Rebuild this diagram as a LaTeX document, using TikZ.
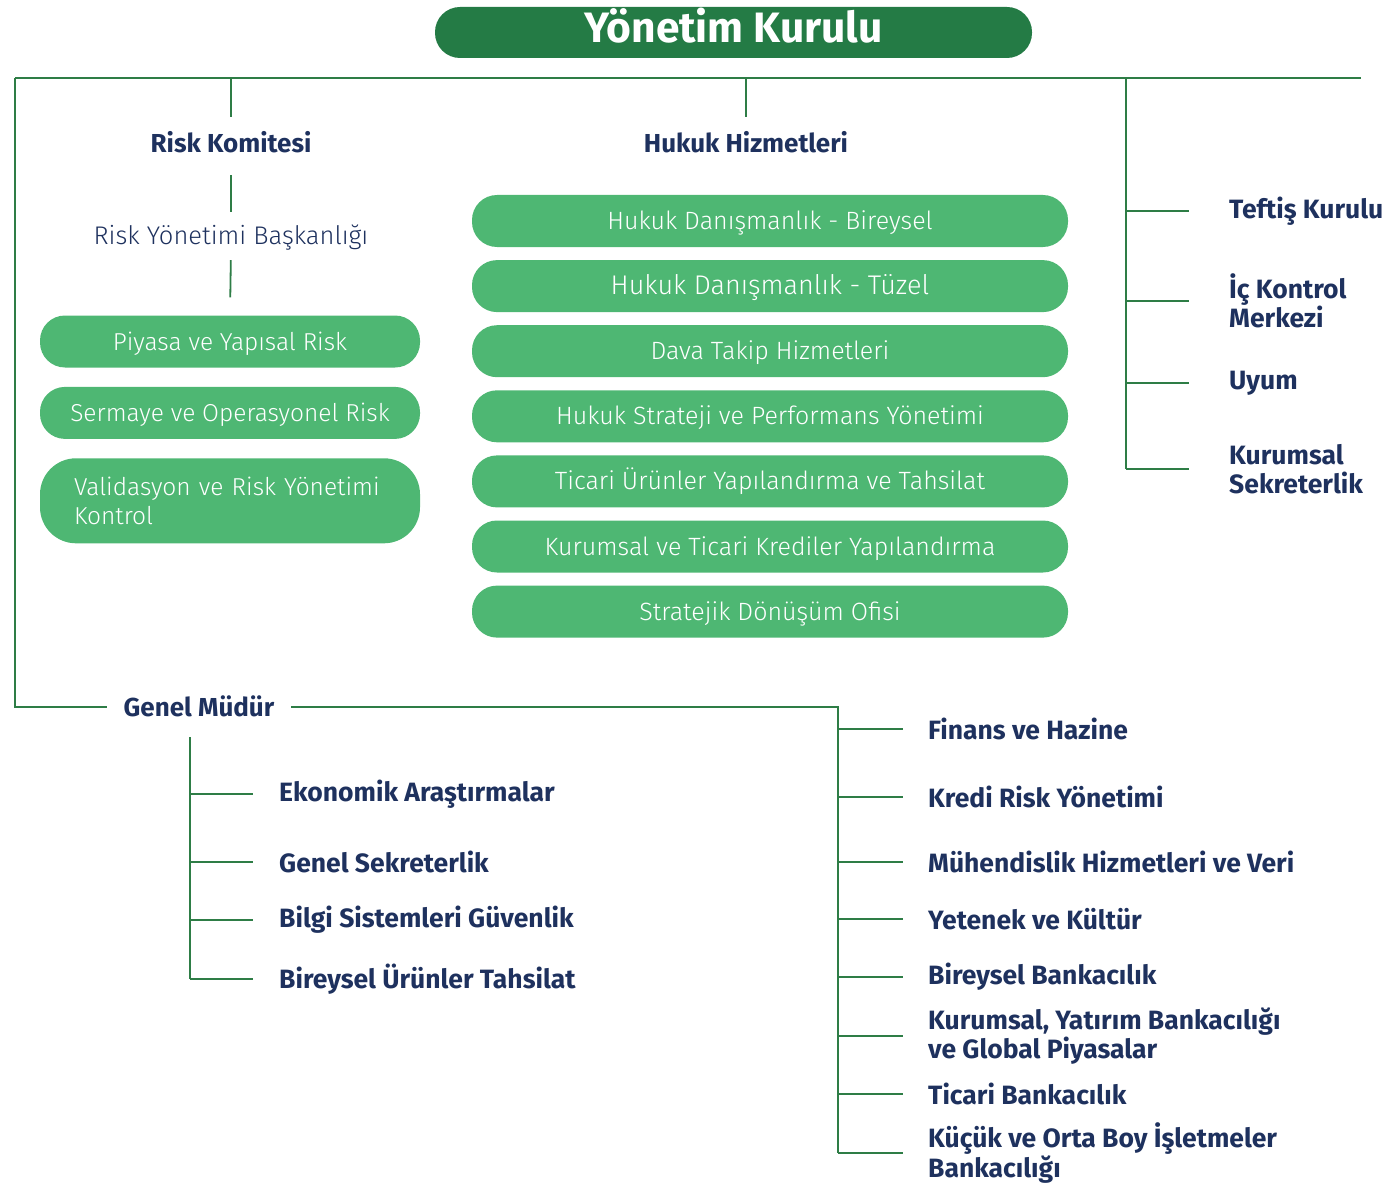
\documentclass[tikz,border=0pt]{standalone}
\usepackage{fontspec}
\setmainfont{Fira Sans}
\newfontfamily\lightfont{Fira Sans Light}
\usepackage{tikz}
\usetikzlibrary{positioning}
\usepackage{xcolor}
\definecolor{board}{RGB}{36,123,69}
\definecolor{pillgreen}{RGB}{78,183,115}
\definecolor{navy}{RGB}{30,49,94}
\definecolor{linegreen}{RGB}{46,125,70}

\begin{document}
\begin{tikzpicture}[x=1pt,y=-1pt,
  every node/.style={inner sep=0pt},
  link/.style={draw=linegreen,line width=1.8pt},
  pill/.style={fill=pillgreen,rounded corners=25pt,text=white,
    font=\lightfont\fontsize{25}{29}\selectfont,minimum height=52pt,
    text height=17pt,text depth=0pt},
  head/.style={text=navy,font=\bfseries\fontsize{26}{30}\selectfont,
    text height=17pt,text depth=5pt},
  unit/.style={text=navy,font=\bfseries\fontsize{26.5}{29.5}\selectfont,
    align=left,anchor=west}]
\useasboundingbox (0,0) rectangle (1392,1185);
\node[fill=board,rounded corners=25pt,minimum width=597pt,
  minimum height=51pt,text height=30pt,text depth=9pt,text=white,
  font=\bfseries\fontsize{42.5}{48}\selectfont]
  (yk) at (733.5,32.5) {Yönetim Kurulu};
\coordinate (tl) at (15,78);
\coordinate (tr) at (1361,78);
\draw[link] (tl) -- (tr);
% risk
\node[head] (rk) at (231,147) {Risk Komitesi};
\node[text=navy,font=\lightfont\fontsize{25.5}{29}\selectfont,
  text height=17pt,text depth=5pt] (rb) at (231,238) {Risk Yönetimi Başkanlığı};
\node[pill,minimum width=380pt,font=\lightfont\fontsize{24.5}{29}\selectfont]
  (p1) at (230,341.5) {Piyasa ve Yapısal Risk};
\node[pill,minimum width=380pt,font=\lightfont\fontsize{24.5}{29}\selectfont,
  below=19pt of p1] (p2) {Sermaye ve Operasyonel Risk};
\node[fill=pillgreen,text=white,minimum width=380pt,minimum height=85pt,
  rounded corners=36pt,font=\lightfont\fontsize{24.5}{29}\selectfont,
  text width=312pt,align=left,below=19pt of p2] (p3)
  {Validasyon ve Risk Yönetimi\\Kontrol};
\draw[link,shorten >=19pt] (rk |- tl) -- (rk.north);
\draw[link,shorten <=17pt,shorten >=15pt] (rk.south) -- (rb.north);
\draw[link,shorten <=11pt,shorten >=18pt] (rb.south) -- (p1.north);
% hukuk
\node[head] (hh) at (746,147) {Hukuk Hizmetleri};
\node[pill,minimum width=596pt] (h1) at (770,221) {Hukuk Danışmanlık - Bireysel};
\node[pill,minimum width=596pt,below=12.7pt of h1,
  font=\lightfont\fontsize{27}{29}\selectfont] (h2) {Hukuk Danışmanlık - Tüzel};
\node[pill,minimum width=596pt,below=12.7pt of h2] (h3) {Dava Takip Hizmetleri};
\node[pill,minimum width=596pt,below=12.7pt of h3] (h4) {Hukuk Strateji ve Performans Yönetimi};
\node[pill,minimum width=596pt,below=12.7pt of h4] (h5) {Ticari Ürünler Yapılandırma ve Tahsilat};
\node[pill,minimum width=596pt,below=12.7pt of h5] (h6) {Kurumsal ve Ticari Krediler Yapılandırma};
\node[pill,minimum width=596pt,below=12.7pt of h6] (h7) {Stratejik Dönüşüm Ofisi};
\draw[link,shorten >=19pt] (hh.north |- tl) -- (hh.north);
% board units
\coordinate (rv) at (1126,78);
\node[unit] (tk) at (1229,211) {Teftiş Kurulu};
\node[unit] (ik) at (1229,301) {İç Kontrol\\Merkezi};
\node[unit] (uy) at (1229,383) {Uyum};
\node[unit] (ks) at (1229,469) {Kurumsal\\Sekreterlik};
\draw[link] (rv) -- (rv |- ks.west);
\foreach \n in {tk,ik,uy,ks}
  \draw[link] (rv |- \n.west) -- ([xshift=-40pt]\n.west);
% genel mudur
\node[head,inner xsep=17pt,text height=18pt,text depth=0pt]
  (gm) at (199,707) {Genel Müdür};
\draw[link] (tl) |- (gm.west);
\coordinate (gv) at (838,708);
\coordinate (gs) at (190,737);
\node[unit] (ea) at (279,794) {Ekonomik Araştırmalar};
\node[unit] (gk) at (279,862) {Genel Sekreterlik};
\node[unit] (bg) at (279,920) {Bilgi Sistemleri Güvenlik};
\node[unit] (bt) at (279,979) {Bireysel Ürünler Tahsilat};
\draw[link] (gs) -- (gs |- bt.west);
\foreach \n in {ea,gk,bg,bt}
  \draw[link] (gs |- \n.west) -- ([xshift=-26pt]\n.west);
\node[unit] (fh) at (928,729) {Finans ve Hazine};
\node[unit] (kr) at (928,797) {Kredi Risk Yönetimi};
\node[unit] (mh) at (928,862) {Mühendislik Hizmetleri ve Veri};
\node[unit] (yt) at (928,919) {Yetenek ve Kültür};
\node[unit] (bb) at (928,977) {Bireysel Bankacılık};
\node[unit] (ky) at (928,1036) {Kurumsal, Yatırım Bankacılığı\\ve Global Piyasalar};
\node[unit] (tb) at (928,1094) {Ticari Bankacılık};
\node[unit] (kb) at (928,1153) {Küçük ve Orta Boy İşletmeler\\Bankacılığı};
\draw[link] (gm.east) -- (gm.east -| gv) -- (gv |- kb.west);
\foreach \n in {fh,kr,mh,yt,bb,ky,tb,kb}
  \draw[link] (gv |- \n.west) -- ([xshift=-25pt]\n.west);
\end{tikzpicture}
\end{document}
